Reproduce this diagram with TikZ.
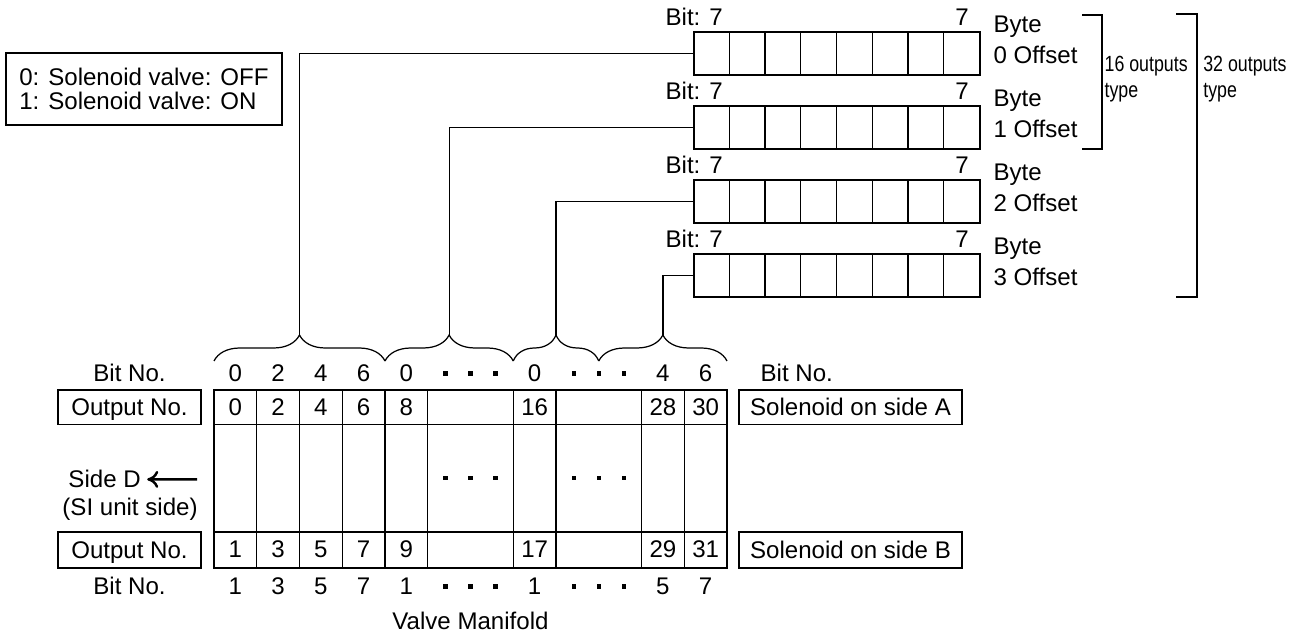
\documentclass[tikz,border=0pt]{standalone}
\usepackage{fontspec}
\setmainfont{Liberation Sans}
\newfontfamily\narrowfont[FakeStretch=0.81]{Liberation Sans}
\usetikzlibrary{decorations.pathreplacing,arrows.meta}
\tikzstyle{register} = [draw,rectangle,inner sep=0pt,minimum width=5.72cm,minimum height=0.86cm]
\tikzstyle{namebox} = [draw,rectangle,inner sep=0pt,minimum height=0.69cm,text height=0.40cm,text depth=0.05cm]
\tikzstyle{num} = [anchor=base,inner sep=0pt]
\tikzstyle{txt} = [anchor=base west,inner sep=0pt]
\tikzstyle{dot} = [rectangle,fill=black,inner sep=0pt,minimum size=0.085cm]
\tikzstyle{bytebrace} = [decorate,decoration={brace,amplitude=0.52cm}]
\tikzstyle{narrow} = [anchor=base west,inner sep=0pt,font=\narrowfont\fontsize{12.5}{14}\selectfont]
\begin{document}
\begin{tikzpicture}[line width=0.7pt,font=\fontsize{13.7}{13.3}\selectfont]
\useasboundingbox (0,0) rectangle (26,-12.8);
\node[draw,align=left,inner sep=0pt,minimum width=5.52cm,minimum height=1.44cm] (legend) at (2.880,-1.780) {0: Solenoid valve: OFF\\1: Solenoid valve: ON};
% byte registers
\foreach \k in {0,1,2,3} {
\node[register] (reg\k) at (16.740,-1.070-1.48*\k) {};
\foreach \i in {1,...,7} \draw (reg\k.north west) ++(0.715*\i,0) -- ++(0,-0.86);
\node[txt] at (13.300,-0.520-1.48*\k) {Bit: 7};
\node[num] at (19.243,-0.520-1.48*\k) {7};
\node[txt] at (19.860,-0.646-1.48*\k) {Byte};
\node[txt] at (19.860,-1.266-1.48*\k) {\k\ Offset};
}
\draw (21.640,-0.300) -- (22.040,-0.300) -- (22.040,-2.980) -- (21.640,-2.980);
\draw (23.520,-0.280) -- (23.940,-0.280) -- (23.940,-5.940) -- (23.520,-5.940);
\node[narrow] at (22.080,-1.440) {16 outputs};
\node[narrow] at (22.080,-1.950) {type};
\node[narrow] at (24.054,-1.440) {32 outputs};
\node[narrow] at (24.054,-1.950) {type};
% braces over the manifold
\draw[bytebrace] (4.280,-7.220) -- (7.700,-7.220);
\draw[bytebrace] (7.700,-7.220) -- (10.265,-7.220);
\draw[bytebrace] (10.265,-7.220) -- (11.975,-7.220);
\draw[bytebrace] (11.975,-7.220) -- (14.540,-7.220);
\coordinate (tip0) at (5.990,-6.700);
\coordinate (tip1) at (8.983,-6.700);
\coordinate (tip2) at (11.120,-6.700);
\coordinate (tip3) at (13.258,-6.700);
\draw (reg0.west) -| (tip0);
\draw (reg1.west) -| (tip1);
\draw (reg2.west) -| (tip2);
\draw (reg3.west) -| (tip3);
% valve manifold
\node[draw,rectangle,inner sep=0pt,minimum width=10.26cm,minimum height=3.56cm] (manifold) at (9.410,-9.580) {};
\draw (4.280,-8.490) -- (14.540,-8.490);
\draw (4.280,-10.640) -- (14.540,-10.640);
\foreach \x in {5.135,5.990,6.845,7.700,8.555,10.265,11.120,12.830,13.685} \draw (\x,-7.800) -- (\x,-11.360);
\foreach \x/\t in {4.708/0,5.563/2,6.418/4,7.273/6,8.128/0,10.693/0,13.258/4,14.113/6} \node[num] at (\x,-7.640) {\t};
\foreach \x/\t in {4.708/0,5.563/2,6.418/4,7.273/6,8.128/8,10.693/16,13.258/28,14.113/30} \node[num] at (\x,-8.320) {\t};
\foreach \x/\t in {4.708/1,5.563/3,6.418/5,7.273/7,8.128/9,10.693/17,13.258/29,14.113/31} \node[num] at (\x,-11.160) {\t};
\foreach \x/\t in {4.708/1,5.563/3,6.418/5,7.273/7,8.128/1,10.693/1,13.258/5,14.113/7} \node[num] at (\x,-11.900) {\t};
\foreach \y in {-7.470,-9.560,-11.730} \foreach \x in {8.910,9.410,9.910,11.475,11.975,12.475} \node[dot] at (\x,\y) {};
\node[namebox,minimum width=2.86cm] (outA) at (2.590,-8.145) {Output No.};
\node[namebox,minimum width=2.86cm,minimum height=0.72cm] (outB) at (2.590,-11.000) {Output No.};
\node[namebox,minimum width=4.46cm] (solA) at (17.010,-8.145) {Solenoid on side A};
\node[namebox,minimum width=4.46cm,minimum height=0.72cm] (solB) at (17.010,-11.000) {Solenoid on side B};
\node[num] at (2.590,-7.640) {Bit No.};
\node[num] at (2.590,-11.900) {Bit No.};
\node[txt] at (15.200,-7.640) {Bit No.};
\node[anchor=base west] (sideD) at (1.240,-9.760) {Side D};
\coordinate (sideDtail) at (3.940,-9.588);
\draw[line width=1.4pt,-{To[length=0.22cm,width=0.34cm]}] (sideDtail) -- (sideD.east);
\node[num] at (2.600,-10.320) {(SI unit side)};
\node[num] at (9.410,-12.600) {Valve Manifold};
\end{tikzpicture}
\end{document}
